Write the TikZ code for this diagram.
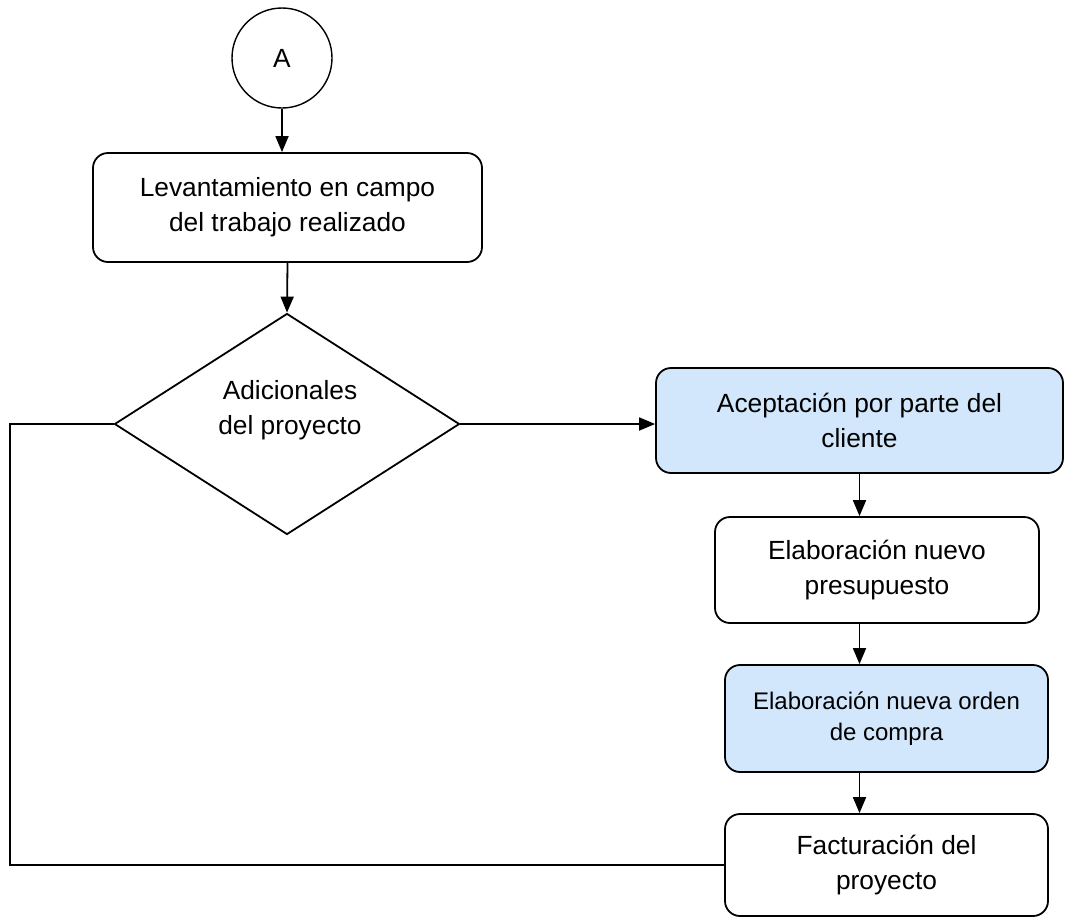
\documentclass[tikz,border=0pt]{standalone}
\usepackage{fontspec}
\setmainfont{Liberation Sans}
\usetikzlibrary{shapes.geometric,arrows.meta}
\definecolor{paleblue}{RGB}{210,230,252}

\begin{document}
\begin{tikzpicture}[x=1pt,y=-1pt,line width=1.8pt,
  proc/.style={draw,rounded corners=15pt,align=center,inner sep=0pt,font=\fontsize{26.3}{35}\selectfont},
  shaded/.style={proc,fill=paleblue},
  >={Triangle[length=16pt,width=13pt]}]
\useasboundingbox (0,0) rectangle (1065,919);
\node[draw,circle,minimum size=100pt,line width=1.4pt,font=\fontsize{26.3}{35}\selectfont] (p_A) at (282,58) {A};
\node[proc,minimum width=389pt,minimum height=109pt] (p_0) at (287.5,207.5) {Levantamiento en campo\\del trabajo realizado};
\node[draw,diamond,minimum width=345pt,minimum height=221pt,inner sep=0pt] (d_0) at (287,424) {};
\node[align=center,font=\fontsize{26.3}{35}\selectfont] (d_t) at (290,410) {Adicionales\\del proyecto};
\node[shaded,minimum width=407pt,minimum height=105pt] (p_1) at (859.5,420.5) {Aceptación por parte del\\cliente};
\node[proc,minimum width=324pt,minimum height=106pt] (p_2) at (877,570) {Elaboración nuevo\\presupuesto};
\node[shaded,minimum width=323pt,minimum height=107pt,font=\fontsize{24}{31}\selectfont] (p_3) at (886.5,718.5) {Elaboración nueva orden\\de compra};
\node[proc,minimum width=323pt,minimum height=102pt] (p_4) at (886.5,865) {Facturación del\\proyecto};
\path[->]
(p_A.south) edge (p_A.south |- p_0.north)
(p_0.south) edge (d_0.north)
(d_0.east) edge (d_0.east -| p_1.west)
(p_1.south) edge (p_1.south |- p_2.north)
(p_1.south |- p_2.south) edge (p_1.south |- p_3.north)
(p_1.south |- p_3.south) edge (p_1.south |- p_4.north);
\draw (d_0.west) -- ++(-104,0) |- (p_4.west);
\end{tikzpicture}
\end{document}
